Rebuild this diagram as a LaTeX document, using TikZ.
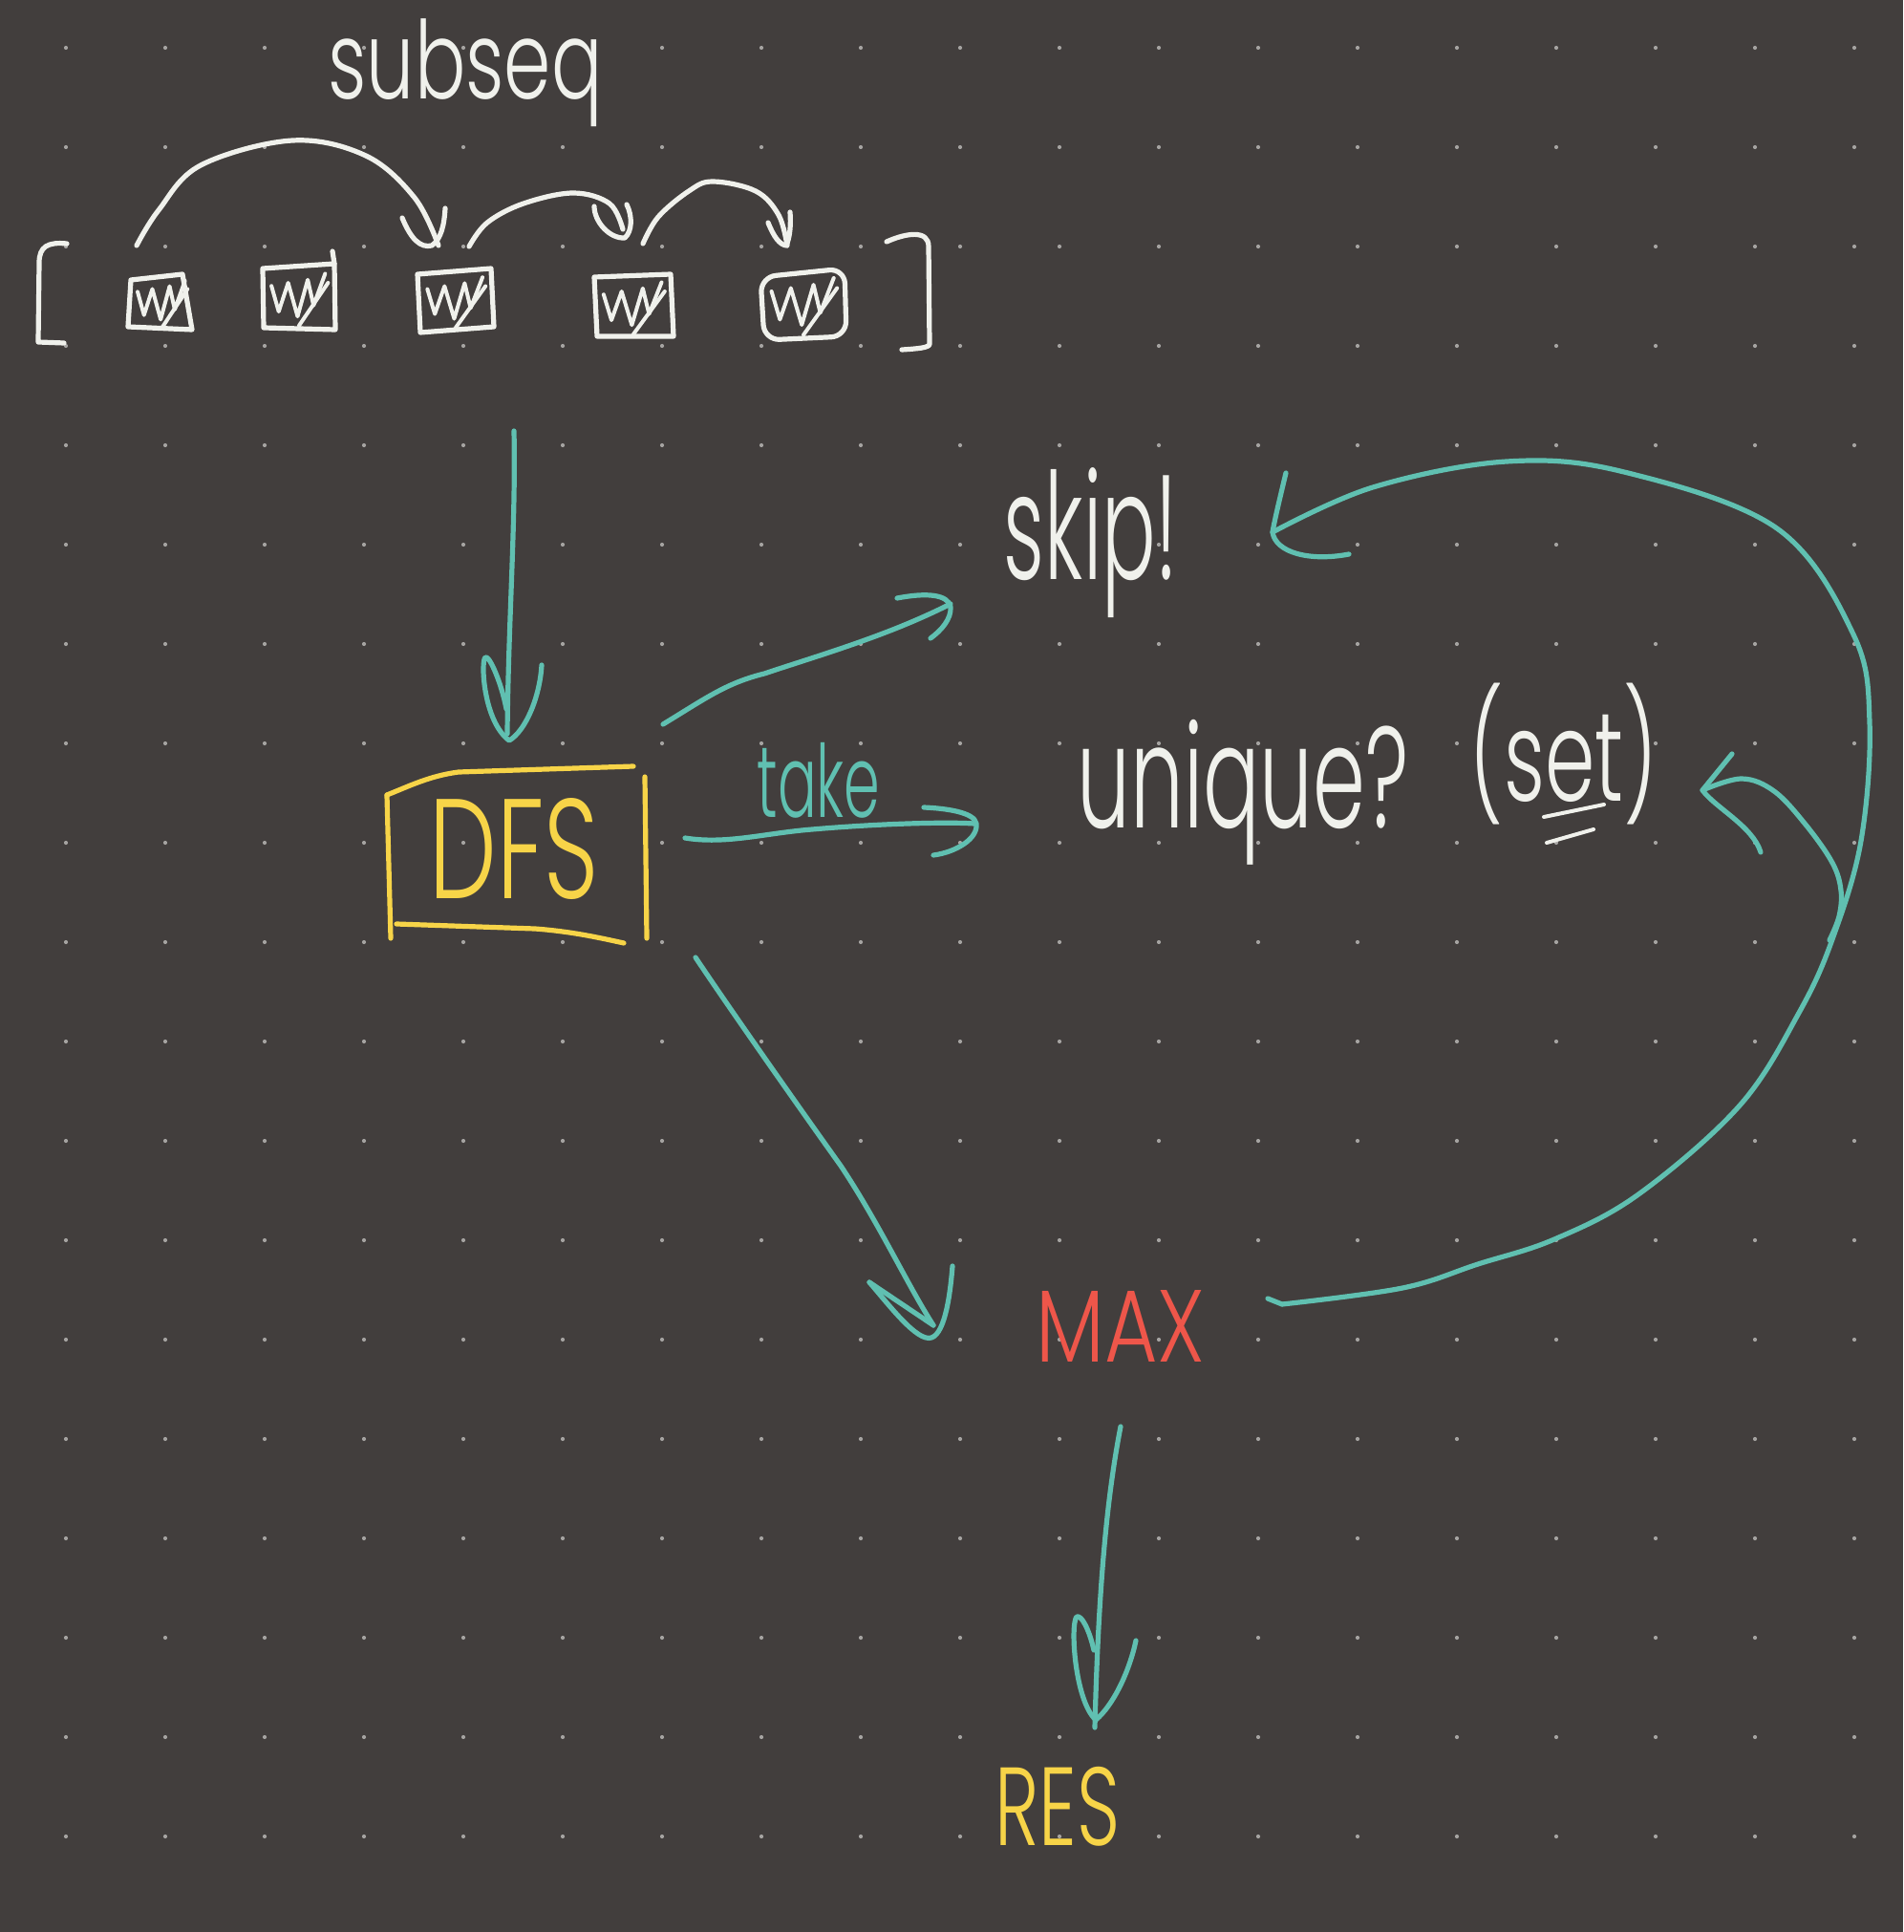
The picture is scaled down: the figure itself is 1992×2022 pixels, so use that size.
\documentclass[tikz,border=0pt]{standalone}
\usepackage{fontspec}
\usepackage{graphicx}
\newfontfamily\hand{Poppins Light}
\definecolor{bg}{RGB}{66,62,61}
\definecolor{dotc}{RGB}{165,163,161}
\definecolor{chalk}{RGB}{240,241,236}
\definecolor{tealc}{RGB}{96,192,177}
\definecolor{yel}{RGB}{247,212,72}
\definecolor{redc}{RGB}{238,86,74}
\newcommand{\fitbox}[3]{\resizebox*{#1}{#2}{\hand #3}}
\tikzset{
  pen/.style={line width=2.6pt, line cap=round, line join=round},
  wpen/.style={pen, draw=chalk},
  tpen/.style={pen, draw=tealc},
  ypen/.style={pen, draw=yel},
  txt/.style={inner sep=0pt, outer sep=0pt},
  hatchbox/.pic={
    \draw[chalk, line width=2pt, line cap=round, line join=round]
      (0.12,0.3) -- (0.22,0.72) -- (0.35,0.25) -- (0.48,0.8) -- (0.62,0.2) -- (0.7,0.62) -- (0.86,0.1);
    \draw[chalk, line width=2pt, line cap=round] (0.9,0.25) -- (0.5,0.95);
  }
}
\begin{document}
\begin{tikzpicture}[x=0.5pt, y=-0.5pt]
\fill[bg] (0,0) rectangle (1992,2022);
\useasboundingbox (0,0) rectangle (1992,2022);
\foreach \i in {0,...,18}{
  \foreach \j in {0,...,18}{
    \fill[dotc] ({69+104*\i},{50+104*\j}) circle[radius=2.1];
  }
}

% ---------- text nodes ----------
\node[txt, text=chalk] (subseq) at (487,76) {\fitbox{143.5pt}{56.5pt}{subseq}};
\node[txt, text=chalk] (skip) at (1142,568) {\fitbox{91pt}{78.5pt}{skip!}};
\node[txt, text=tealc] (take) at (857,817) {\fitbox{64.5pt}{39.5pt}{take}};
\node[txt, text=chalk] (uniq) at (1301,829) {\fitbox{173.5pt}{76pt}{unique?}};
\node[txt, text=chalk] (set) at (1637,789) {\fitbox{98pt}{74pt}{(set)}};
\node[txt, text=yel] (dfs) at (538,889) {\fitbox{88.5pt}{53pt}{DFS}};
\node[txt, text=redc] (max) at (1173,1388) {\fitbox{88.5pt}{37.5pt}{MAX}};
\node[txt, text=yel] (res) at (1107,1891) {\fitbox{65.5pt}{41.5pt}{RES}};

% underline of "se"
\draw[wpen, line width=2pt] (1616,855) -- (1679,842);
\draw[wpen, line width=2pt] (1619,882) -- (1668,868);

% ---------- array ----------
\draw[wpen] (70,255) .. controls (50,253) and (41,258) .. (41,275) -- (40,358) -- (67,359);
\draw[wpen] (928,253) .. controls (948,244) and (972,240) .. (972,258) -- (973,360) .. controls (973,364) and (960,365) .. (944,366);

\draw[wpen] (137,293) -- (191,287) -- (201,345) -- (134,342) -- cycle;
\draw[wpen] (275,281) -- (350,276) -- (351,345) -- (276,343) -- cycle;
\draw[wpen] (348,263) -- (350,276);
\draw[wpen] (437,287) -- (514,281) -- (517,342) -- (440,348) -- cycle;
\draw[wpen] (622,290) -- (702,287) -- (705,352) -- (625,352) -- cycle;
\draw[wpen, rounded corners=8pt] (796,290) -- (884,281) -- (886,352) -- (800,356) -- cycle;

\pic[xscale=67, yscale=58] at (136,288) {hatchbox};
\pic[xscale=76, yscale=64] at (275,280) {hatchbox};
\pic[xscale=78, yscale=62] at (438,284) {hatchbox};
\pic[xscale=82, yscale=64] at (622,289) {hatchbox};
\pic[xscale=88, yscale=70] at (797,284) {hatchbox};

% arcs over the array
\coordinate (a1s) at (143,257); \coordinate (a1e) at (459,257);
\coordinate (a2s) at (491,258); \coordinate (a2e) at (652,240);
\coordinate (a3s) at (673,255); \coordinate (a3e) at (824,257);
\draw[wpen] plot[smooth, tension=0.6] coordinates {(a1s) (166,220) (210,173) (306,147) (383,163) (434,207) (a1e)};
\draw[wpen] (421,228) .. controls (430,250) and (440,260) .. (452,257) .. controls (462,250) and (465,235) .. (466,218);
\draw[wpen] plot[smooth, tension=0.6] coordinates {(a2s) (510,233) (548,213) (600,202) (638,213) (a2e)};
\draw[wpen] (622,216) .. controls (622,232) and (638,250) .. (654,249) .. controls (662,242) and (662,226) .. (656,214);
\draw[wpen] plot[smooth, tension=0.6] coordinates {(a3s) (689,227) (721,200) (746,190) (791,200) (815,225) (a3e)};
\draw[wpen] (804,233) .. controls (810,248) and (816,256) .. (823,257) .. controls (827,248) and (828,235) .. (827,222);

% ---------- DFS box ----------
\draw[ypen] (405,832) .. controls (430,822) and (450,812) .. (480,808) -- (663,802);
\draw[ypen] (405,832) -- (409,982);
\draw[ypen] (675,813) -- (677,982);
\draw[ypen] (415,967) -- (560,972) .. controls (600,975) and (630,982) .. (653,987);

% ---------- connectors ----------
% array -> DFS
\coordinate (arrOut) at (538,451);
\coordinate (dfsIn) at (531,768);
\draw[tpen] (arrOut) .. controls (540,550) and (532,650) .. (dfsIn);
\draw[tpen] (530,742) .. controls (525,715) and (512,685) .. (508,688) .. controls (503,692) and (506,755) .. (533,775) .. controls (550,765) and (565,730) .. (567,696);

% DFS -> skip
\coordinate (dfsSkip) at (694,758);
\coordinate (skipIn) at (995,632);
\draw[tpen] (dfsSkip) .. controls (740,730) and (760,715) .. (800,705) .. controls (860,685) and (930,665) .. (skipIn);
\draw[tpen] (939,626) .. controls (970,620) and (992,622) .. (995,635) .. controls (996,648) and (985,660) .. (974,668);

% DFS -> unique (take)
\coordinate (dfsTake) at (717,877);
\coordinate (uniqIn) at (1020,862);
\draw[tpen] (dfsTake) .. controls (760,884) and (800,872) .. (850,868) .. controls (920,862) and (990,860) .. (uniqIn);
\draw[tpen] (967,845) .. controls (990,846) and (1020,850) .. (1022,862) .. controls (1024,878) and (1000,892) .. (977,895);

% DFS -> MAX
\coordinate (dfsMax) at (728,1002);
\coordinate (maxIn) at (977,1387);
\draw[tpen] (dfsMax) .. controls (760,1050) and (830,1150) .. (880,1220) .. controls (920,1280) and (950,1345) .. (maxIn);
\draw[tpen] (910,1342) -- (977,1387);
\draw[tpen] (910,1342) .. controls (930,1365) and (960,1405) .. (975,1400) .. controls (990,1395) and (995,1350) .. (997,1325);

% MAX -> RES
\coordinate (maxOut) at (1173,1493);
\coordinate (resIn) at (1146,1808);
\draw[tpen] (maxOut) .. controls (1160,1560) and (1150,1650) .. (resIn);
\draw[tpen] (1145,1727) .. controls (1140,1705) and (1132,1690) .. (1127,1692) .. controls (1120,1700) and (1125,1780) .. (1147,1800) .. controls (1165,1785) and (1182,1750) .. (1189,1717);

% MAX -> skip (big loop)
\coordinate (maxLoop) at (1327,1359);
\coordinate (skipBack) at (1332,557);
\draw[tpen] (maxLoop) -- (1342,1365);
\draw[tpen] plot[smooth, tension=0.6] coordinates {(1342,1365) (1468,1348) (1547,1323) (1627,1297) (1715,1250) (1821,1157) (1883,1060) (1918,983) (1948,880) (1957,756) (1940,664) (1860,553) (1700,494) (1577,483) (1437,510) (skipBack)};
\draw[tpen] (1346,495) .. controls (1340,520) and (1334,545) .. (1332,557) .. controls (1335,578) and (1370,588) .. (1412,580);

% loop -> (set)
\coordinate (loopSet) at (1915,984);
\coordinate (setIn) at (1782,827);
\draw[tpen] plot[smooth, tension=0.6] coordinates {(loopSet) (1925,959) (1927,932) (1918,903) (1890,863) (1857,828) (1823,815) (setIn)};
\draw[tpen] (1813,789) -- (1782,827) .. controls (1795,845) and (1835,865) .. (1843,892);
\end{tikzpicture}
\end{document}
